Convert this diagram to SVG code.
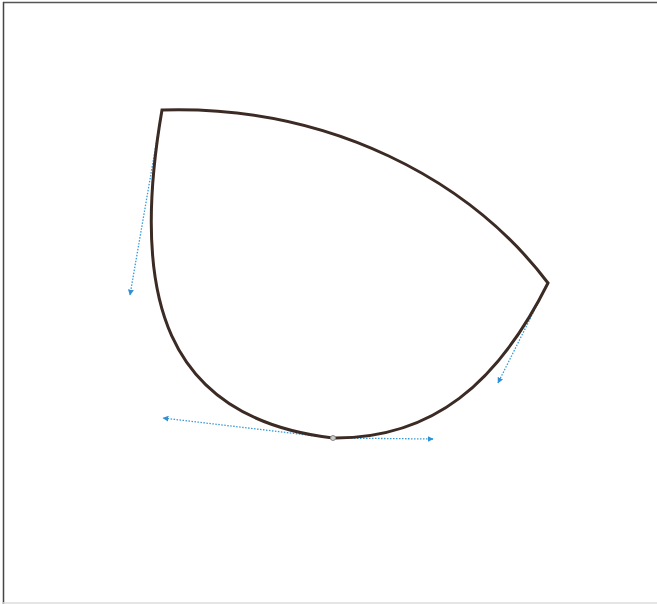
<svg xmlns="http://www.w3.org/2000/svg" width="657" height="604" viewBox="0 0 657 604">
<defs>
<style>
.handle{stroke:#3a9ad9;stroke-width:1.3;stroke-dasharray:1.5 1.5;fill:none;marker-end:url(#ah)}
.shape{stroke:#3b2b24;stroke-width:3;fill:none;stroke-linejoin:miter}
</style>
<marker id="ah" viewBox="0 0 10 10" refX="9" refY="5" markerWidth="6" markerHeight="6" orient="auto" markerUnits="userSpaceOnUse">
<path d="M0,0 L10,5 L0,10 z" fill="#2f90d6"/>
</marker>
</defs>
<rect width="657" height="604" fill="#fff"/>
<g id="frame">
<line x1="3" y1="2.5" x2="657" y2="2.5" stroke="#555" stroke-width="1.5"/>
<line x1="3.5" y1="2" x2="3.5" y2="604" stroke="#444" stroke-width="1.5"/>
<line x1="3" y1="603" x2="657" y2="603" stroke="#ddd" stroke-width="1.5"/>
</g>
<g id="connectors">
<line class="handle" x1="162" y1="110" x2="130" y2="295"/>
<line class="handle" x1="548" y1="283" x2="498" y2="383"/>
<line class="handle" x1="333" y1="438" x2="163" y2="418"/>
<line class="handle" x1="333" y1="438" x2="433" y2="439"/>
</g>
<g id="shape">
<path class="shape" d="M162,110 C330,105 470,180 548,283 C498,383 433,439 333,438 C163,418 130,295 162,110 Z"/>
</g>
<g id="node">
<circle cx="333" cy="438" r="2.5" fill="#ccc" stroke="#888" stroke-width="1"/>
</g>
</svg>
